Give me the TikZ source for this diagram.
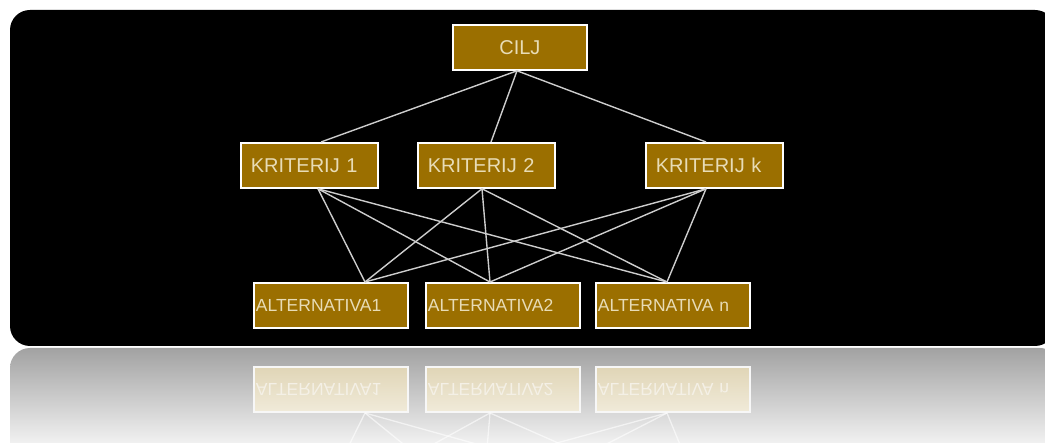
\documentclass[tikz,border=0pt]{standalone}
\usepackage{fontspec}
\setmainfont{Liberation Sans}
\usetikzlibrary{calc}
\definecolor{boxgold}{RGB}{155,111,0}
\definecolor{boxtext}{RGB}{232,220,182}
\definecolor{linegray}{RGB}{205,205,205}
\definecolor{reflA}{RGB}{224,213,182}
\definecolor{reflB}{RGB}{241,235,218}
\definecolor{refltext}{RGB}{244,240,230}
\definecolor{reflgray}{RGB}{162,162,162}
\pgfdeclarelayer{panel}
\pgfdeclarelayer{boxfill}
\pgfsetlayers{panel,boxfill,main}
\begin{document}
\begin{tikzpicture}[x=1pt,y=-1pt,
  box/.style={draw=white, line width=1.8pt, fill=boxgold, text=boxtext,
    font=\fontsize{20}{20}\selectfont, inner sep=0pt, anchor=north west, minimum height=45pt},
  goal/.style={box, minimum width=134pt, align=center},
  crit/.style={box, text width=117pt, align=left, minimum width=137pt},
  alt/.style={box, font=\fontsize{17.5}{17.5}\selectfont, text width=150pt, align=left, minimum width=154pt},
  rbox/.style={draw=white!94!gray, line width=1.8pt, text=refltext,
    font=\fontsize{17.5}{17.5}\selectfont, inner sep=0pt, anchor=north west, minimum height=45pt,
    text width=150pt, align=left, minimum width=154pt},
  rshade/.style={top color=reflA, bottom color=reflB},
  link/.style={draw=linegray, line width=1.4pt},
  rlink/.style={draw=white, line width=1.3pt, opacity=0.6}
]
\useasboundingbox (0,0) rectangle (1045,443);
\clip (0,0) rectangle (1045,443);
\begin{pgfonlayer}{panel}
\fill[white] (0,0) rectangle (1045,443);
% black panel
\fill[black, rounded corners=20pt] (10,10) rectangle (1055,346);
% reflection panel
\shade[top color=reflgray, bottom color=white]
  (10,460) [rounded corners=20pt] -- (10,348) -- (1060,348) [sharp corners] -- (1060,460) -- cycle;
\end{pgfonlayer}

% nodes
\node[goal] (g) at (452,24) {CILJ};
\node[crit] (k1) at (240,142) {KRITERIJ 1};
\node[crit] (k2) at (417,142) {KRITERIJ 2};
\node[crit] (kk) at (645,142) {KRITERIJ k};
\node[alt] (a1) at (253,282) {ALTERNATIVA1};
\node[alt] (a2) at (425,282) {ALTERNATIVA2};
\node[alt] (an) at (595,282) {ALTERNATIVA n};

% attachment points
\coordinate (gb) at ([xshift=65pt]g.south west);
\coordinate (k1t) at ([xshift=81pt]k1.north west);
\coordinate (k2t) at ([xshift=74pt]k2.north west);
\coordinate (kkt) at ([xshift=61pt]kk.north west);
\coordinate (k1b) at ([xshift=78pt]k1.south west);
\coordinate (k2b) at ([xshift=65pt]k2.south west);
\coordinate (kkb) at ([xshift=61pt]kk.south west);
\coordinate (a1t) at ([xshift=112pt]a1.north west);
\coordinate (a2t) at ([xshift=65pt]a2.north west);
\coordinate (ant) at ([xshift=72pt]an.north west);

\draw[link] (gb) -- (k1t);
\draw[link] (gb) -- (k2t);
\draw[link] (gb) -- (kkt);
\foreach \k in {k1b,k2b,kkb}{
  \foreach \a in {a1t,a2t,ant}{
    \draw[link] (\k) -- (\a);
  }
}

% reflection (mirrored about y = 347.5)
\begin{scope}[shift={(0,695)}, yscale=-1, transform shape]
\node[rbox] (ra1) at (253,282) {ALTERNATIVA1};
\node[rbox] (ra2) at (425,282) {ALTERNATIVA2};
\node[rbox] (ran) at (595,282) {ALTERNATIVA n};
\coordinate (rk1b) at (318,187);
\coordinate (rk2b) at (482,187);
\coordinate (rkkb) at (706,187);
\coordinate (ra1t) at ([xshift=112pt]ra1.north west);
\coordinate (ra2t) at ([xshift=65pt]ra2.north west);
\coordinate (rant) at ([xshift=72pt]ran.north west);
\foreach \k in {rk1b,rk2b,rkkb}{
  \foreach \a in {ra1t,ra2t,rant}{
    \draw[rlink] (\k) -- (\a);
  }
}
\end{scope}
\begin{pgfonlayer}{boxfill}
\foreach \r in {ra1,ra2,ran}{
  \shade[rshade] (\r.south west) rectangle (\r.north east);
}
\end{pgfonlayer}
\end{tikzpicture}
\end{document}
